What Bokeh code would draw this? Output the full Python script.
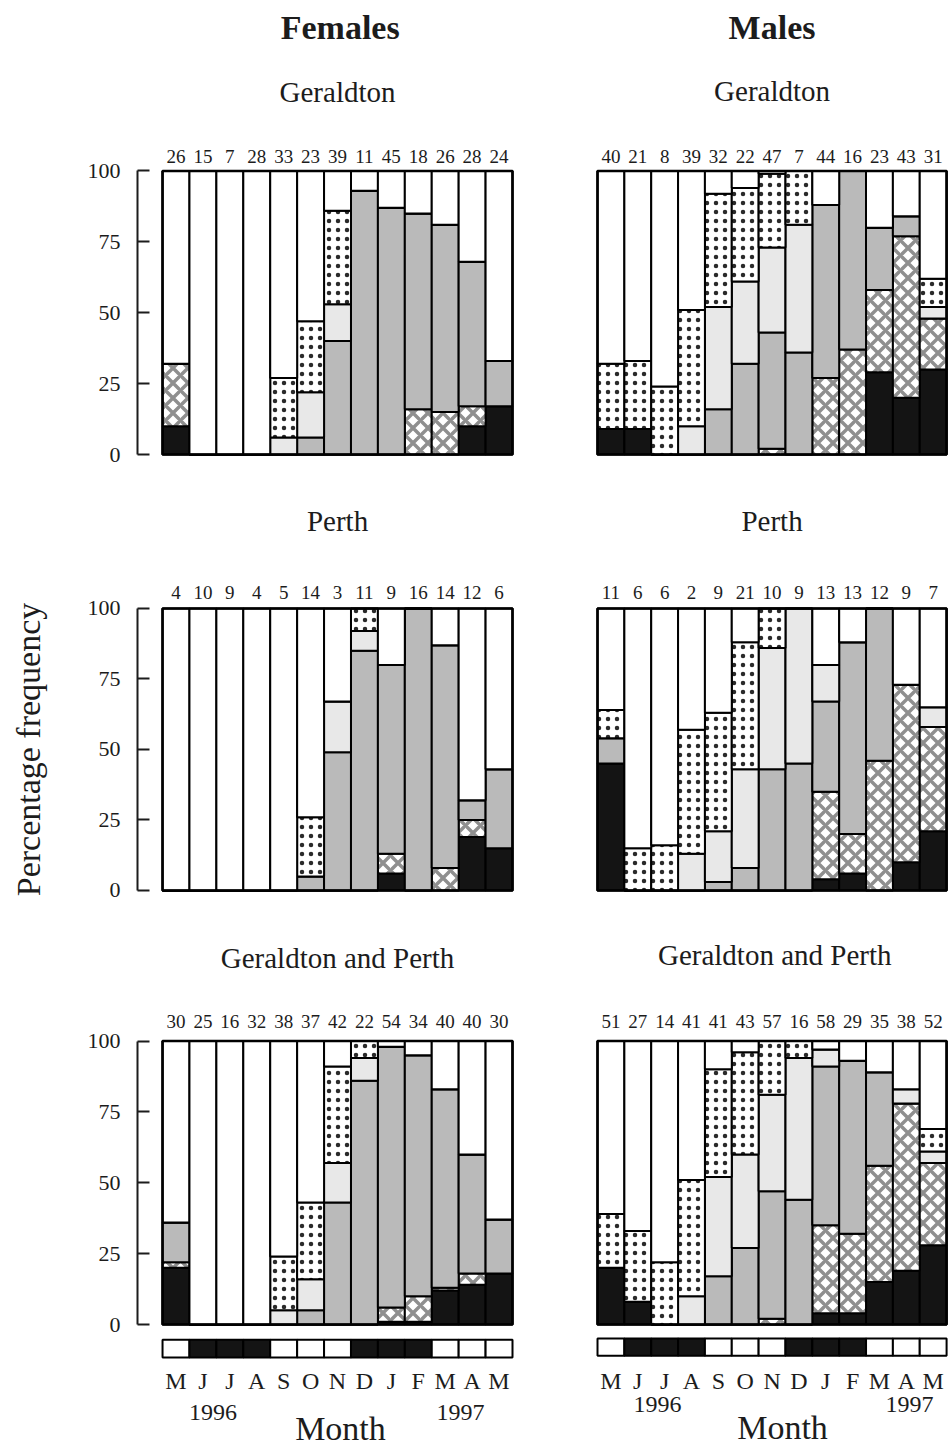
import math

from bokeh.plotting import figure
from bokeh.models import Range1d, FixedTicker, ColumnDataSource
from bokeh.layouts import column, row
from bokeh.embed import file_html
from bokeh.resources import INLINE
from bokeh.core.properties import value

# ---------------------------------------------------------------- data
months = ["M", "J", "J", "A", "S", "O", "N", "D", "J", "F", "M", "A", "M"]
years = ["1996", "1997"]
# dark cells of the strip under the bottom panels
dark_months = [0, 1, 1, 1, 0, 0, 0, 1, 1, 1, 0, 0, 0]
y_ticks = [0, 25, 50, 75, 100]

# stage percentages, listed bottom to top of each bar:
# s6 (black), s5 (diamonds), s4 (grey), s3 (pale grey), s2 (dots), s1 (white)

# Females, Geraldton
f_ger_n = [26, 15, 7, 28, 33, 23, 39, 11, 45, 18, 26, 28, 24]
f_ger_s6 = [10, 0, 0, 0, 0, 0, 0, 0, 0, 0, 0, 10, 17]
f_ger_s5 = [22, 0, 0, 0, 0, 0, 0, 0, 0, 16, 15, 7, 0]
f_ger_s4 = [0, 0, 0, 0, 0, 6, 40, 93, 87, 69, 66, 51, 16]
f_ger_s3 = [0, 0, 0, 0, 6, 16, 13, 0, 0, 0, 0, 0, 0]
f_ger_s2 = [0, 0, 0, 0, 21, 25, 33, 0, 0, 0, 0, 0, 0]
f_ger_s1 = [68, 100, 100, 100, 73, 53, 14, 7, 13, 15, 19, 32, 67]

# Males, Geraldton
m_ger_n = [40, 21, 8, 39, 32, 22, 47, 7, 44, 16, 23, 43, 31]
m_ger_s6 = [9, 9, 0, 0, 0, 0, 0, 0, 0, 0, 29, 20, 30]
m_ger_s5 = [0, 0, 0, 0, 0, 0, 2, 0, 27, 37, 29, 57, 18]
m_ger_s4 = [0, 0, 0, 0, 16, 32, 41, 36, 61, 63, 22, 7, 0]
m_ger_s3 = [0, 0, 0, 10, 36, 29, 30, 45, 0, 0, 0, 0, 4]
m_ger_s2 = [23, 24, 24, 41, 40, 33, 26, 19, 0, 0, 0, 0, 10]
m_ger_s1 = [68, 67, 76, 49, 8, 6, 1, 0, 12, 0, 20, 16, 38]

# Females, Perth
f_per_n = [4, 10, 9, 4, 5, 14, 3, 11, 9, 16, 14, 12, 6]
f_per_s6 = [0, 0, 0, 0, 0, 0, 0, 0, 6, 0, 0, 19, 15]
f_per_s5 = [0, 0, 0, 0, 0, 0, 0, 0, 7, 0, 8, 6, 0]
f_per_s4 = [0, 0, 0, 0, 0, 5, 49, 85, 67, 100, 79, 7, 28]
f_per_s3 = [0, 0, 0, 0, 0, 0, 18, 7, 0, 0, 0, 0, 0]
f_per_s2 = [0, 0, 0, 0, 0, 21, 0, 8, 0, 0, 0, 0, 0]
f_per_s1 = [100, 100, 100, 100, 100, 74, 33, 0, 20, 0, 13, 68, 57]

# Males, Perth
m_per_n = [11, 6, 6, 2, 9, 21, 10, 9, 13, 13, 12, 9, 7]
m_per_s6 = [45, 0, 0, 0, 0, 0, 0, 0, 4, 6, 0, 10, 21]
m_per_s5 = [0, 0, 0, 0, 0, 0, 0, 0, 31, 14, 46, 63, 37]
m_per_s4 = [9, 0, 0, 0, 3, 8, 43, 45, 32, 68, 54, 0, 0]
m_per_s3 = [0, 0, 0, 13, 18, 35, 43, 55, 13, 0, 0, 0, 7]
m_per_s2 = [10, 15, 16, 44, 42, 45, 14, 0, 0, 0, 0, 0, 0]
m_per_s1 = [36, 85, 84, 43, 37, 12, 0, 0, 20, 12, 0, 27, 35]

# Females, Geraldton and Perth
f_all_n = [30, 25, 16, 32, 38, 37, 42, 22, 54, 34, 40, 40, 30]
f_all_s6 = [20, 0, 0, 0, 0, 0, 0, 0, 1, 1, 12, 14, 18]
f_all_s5 = [2, 0, 0, 0, 0, 0, 0, 0, 5, 9, 1, 4, 0]
f_all_s4 = [14, 0, 0, 0, 0, 5, 43, 86, 92, 85, 70, 42, 19]
f_all_s3 = [0, 0, 0, 0, 5, 11, 14, 8, 0, 0, 0, 0, 0]
f_all_s2 = [0, 0, 0, 0, 19, 27, 34, 6, 0, 0, 0, 0, 0]
f_all_s1 = [64, 100, 100, 100, 76, 57, 9, 0, 2, 5, 17, 40, 63]

# Males, Geraldton and Perth
m_all_n = [51, 27, 14, 41, 41, 43, 57, 16, 58, 29, 35, 38, 52]
m_all_s6 = [20, 8, 0, 0, 0, 0, 0, 0, 4, 4, 15, 19, 28]
m_all_s5 = [0, 0, 0, 0, 0, 0, 2, 0, 31, 28, 41, 59, 29]
m_all_s4 = [0, 0, 0, 0, 17, 27, 45, 44, 56, 61, 33, 0, 0]
m_all_s3 = [0, 0, 0, 10, 35, 33, 34, 50, 6, 0, 0, 5, 4]
m_all_s2 = [19, 25, 22, 41, 38, 36, 19, 6, 0, 0, 0, 0, 8]
m_all_s1 = [61, 67, 78, 49, 10, 4, 0, 0, 3, 7, 11, 17, 31]

# ---------------------------------------------------------------- styling
SERIF = value("Liberation Serif")
INK = "#1c1c1c"
STAGES = ["s6", "s5", "s4", "s3", "s2", "s1"]
FILLS = ["#141414", "white", "#bababa", "#e8e8e8", "white", "white"]
HATCH = [" ", "x", " ", " ", ".", " "]
HATCH_COLOR = ["black", "#8f8f8f", "black", "black", "#2a2a2a", "black"]
HATCH_SCALE = [12, 15, 12, 12, 9, 12]
HATCH_WEIGHT = [1, 3.5, 1, 1, 1.5, 1]


def add_text(p, xs, ys, texts, size, style="normal", angle=0.0, level="glyph",
             baseline="alphabetic"):
    p.text(x=xs, y=ys, text=texts, text_font=SERIF, text_font_size=size,
           text_font_style=style, text_align="center", angle=angle,
           text_baseline=baseline, text_color=INK, level=level)


def panel(n, stages, width, height, xr, yr, n_y, headings,
          left_axis=False, side_label=None, footer=None):
    p = figure(width=width, height=height,
               x_range=Range1d(*xr), y_range=Range1d(*yr),
               x_axis_type=None,
               y_axis_type="linear" if left_axis else None,
               toolbar_location=None, output_backend="svg",
               min_border=0, min_border_left=137 if left_axis else 0)
    p.outline_line_color = None
    p.background_fill_color = "white"
    p.border_fill_color = "white"
    p.grid.visible = False

    idx = list(range(1, len(months) + 1))
    src = ColumnDataSource(dict(x=idx, **{k: v for k, v in zip(STAGES, stages)}))
    p.vbar_stack(STAGES, x="x", width=1.0, source=src,
                 fill_color=FILLS, hatch_pattern=HATCH,
                 hatch_color=HATCH_COLOR, hatch_scale=HATCH_SCALE,
                 hatch_weight=HATCH_WEIGHT,
                 line_color="black", line_width=2)
    # outer box around the bars
    p.quad(left=[0.5], right=[len(months) + 0.5], bottom=[y_ticks[0]],
           top=[y_ticks[-1]], fill_color=None, line_color="black",
           line_width=2.6)

    # sample sizes above the bars
    add_text(p, idx, [n_y] * len(idx), [str(v) for v in n], "19px")
    for text, x, y, size, style in headings:
        add_text(p, [x], [y], [text], size, style)

    if left_axis:
        ax = p.yaxis[0]
        ax.ticker = FixedTicker(ticks=y_ticks)
        ax.bounds = (y_ticks[0], y_ticks[-1])
        ax.major_tick_in = 12
        ax.major_tick_out = 0
        ax.minor_tick_line_color = None
        ax.axis_line_width = 2
        ax.major_tick_line_width = 2
        ax.axis_line_color = INK
        ax.major_tick_line_color = INK
        ax.major_label_text_font = "Liberation Serif"
        ax.major_label_text_font_size = "22px"
        ax.major_label_text_color = INK
        ax.major_label_standoff = 17

    if side_label:
        text, x = side_label
        # vertical axis title, centred on the 0-100 scale, drawn unclipped
        add_text(p, [x], [(y_ticks[0] + y_ticks[-1]) / 2], [text], "34px",
                 angle=math.pi / 2, level="overlay", baseline="middle")

    if footer:
        sb, st, month_y, year_x, year_y, label_x, label_y = footer
        p.vbar(x=idx, width=1.0, bottom=sb, top=st,
               fill_color=["#141414" if d else "white" for d in dark_months],
               line_color="black", line_width=2)
        add_text(p, idx, [month_y] * len(idx), months, "24px")
        add_text(p, year_x, [year_y] * len(years), years, "24px")
        add_text(p, [label_x], [label_y], ["Month"], "34px")
    return p


FW, MW = 540, 412
FXR = (-0.43, 14.54)
MXR = (-1.623, 13.72)
YR1 = (-9.17, 160.14)
YR2 = (-8.87, 145.39)
YR3 = (-43.03, 144.27)

f1 = panel(f_ger_n, [f_ger_s6, f_ger_s5, f_ger_s4, f_ger_s3, f_ger_s2, f_ger_s1],
           FW, 480, FXR, YR1, 105.1,
           [("Females", 7.1, 150.6, "34px", "bold"),
            ("Geraldton", 7.0, 127.8, "29px", "normal")],
           left_axis=True)
m1 = panel(m_ger_n, [m_ger_s6, m_ger_s5, m_ger_s4, m_ger_s3, m_ger_s2, m_ger_s1],
           MW, 480, MXR, YR1, 105.1,
           [("Males", 7.0, 150.6, "34px", "bold"),
            ("Geraldton", 7.0, 128.3, "29px", "normal")])

f2 = panel(f_per_n, [f_per_s6, f_per_s5, f_per_s4, f_per_s3, f_per_s2, f_per_s1],
           FW, 435, FXR, YR2, 105.8,
           [("Perth", 7.0, 131.2, "29px", "normal")],
           left_axis=True, side_label=("Percentage frequency", -4.48))
m2 = panel(m_per_n, [m_per_s6, m_per_s5, m_per_s4, m_per_s3, m_per_s2, m_per_s1],
           MW, 435, MXR, YR2, 105.8,
           [("Perth", 7.0, 131.2, "29px", "normal")])

f3 = panel(f_all_n, [f_all_s6, f_all_s5, f_all_s4, f_all_s3, f_all_s2, f_all_s1],
           FW, 531, FXR, YR3, 106.9,
           [("Geraldton and Perth", 7.0, 129.4, "29px", "normal")],
           left_axis=True,
           footer=(-11.6, -5.4, -20.1, [2.37, 11.57], -31.0, 7.11, -36.6))
m3 = panel(m_all_n, [m_all_s6, m_all_s5, m_all_s4, m_all_s3, m_all_s2, m_all_s1],
           MW, 531, MXR, YR3, 106.9,
           [("Geraldton and Perth", 7.1, 130.4, "29px", "normal")],
           footer=(-11.0, -4.9, -20.1, [2.73, 12.12], -28.2, 7.39, -36.2))

layout = column(row(f1, m1), row(f2, m2), row(f3, m3))

with open("out.html", "w") as fh:
    fh.write(file_html(layout, INLINE))
